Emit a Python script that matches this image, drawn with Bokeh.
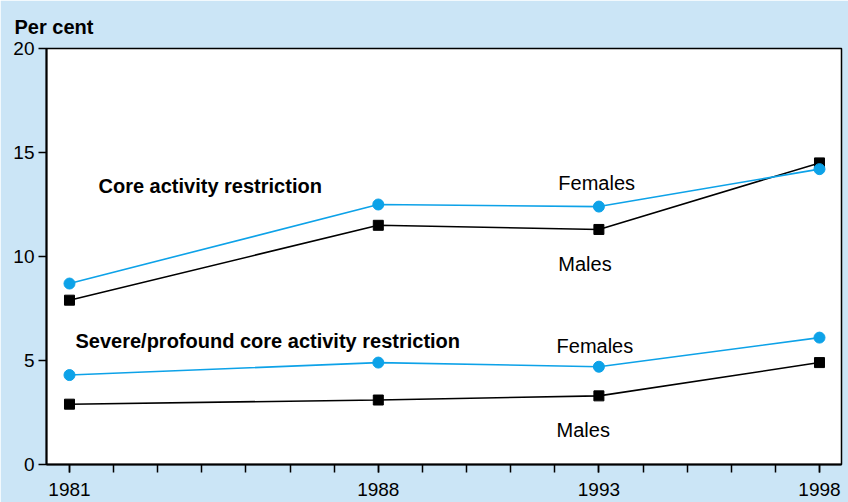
from bokeh.plotting import figure
from bokeh.models import FixedTicker, Label, Range1d
from bokeh.embed import file_html
from bokeh.resources import INLINE

# ---- data ----
years = [1981, 1988, 1993, 1998]
core_females = [8.7, 12.5, 12.4, 14.2]
core_males = [7.9, 11.5, 11.3, 14.5]
severe_females = [4.3, 4.9, 4.7, 6.1]
severe_males = [2.9, 3.1, 3.3, 4.9]
y_ticks = [0, 5, 10, 15, 20]
x_minor = list(range(1981, 1999))

BG = "#CBE5F6"
BLUE = "#0DA2E8"
FONT = "Liberation Sans"

x0, x1 = 1980.479, 1998.499
p = figure(width=848, height=502, output_backend="svg", toolbar_location=None,
           x_range=Range1d(x0, x1), y_range=Range1d(0, 20),
           min_border_left=46, min_border_right=7, min_border_top=48, min_border_bottom=38)
p.background_fill_color = "white"
p.border_fill_color = BG
p.outline_line_color = "black"
p.outline_line_width = 1.5
p.xgrid.visible = False
p.ygrid.visible = False

# title "Per cent"
p.title.text = "Per cent"
p.title.align = "left"
p.title.offset = -32
p.title.standoff = 22
p.title.text_font = FONT
p.title.text_font_size = "20px"
p.title.text_font_style = "bold"
p.title.text_color = "black"

# axes
p.xaxis.ticker = FixedTicker(ticks=years, minor_ticks=x_minor)
p.yaxis.ticker = FixedTicker(ticks=y_ticks, minor_ticks=[])
for ax in (p.xaxis[0], p.yaxis[0]):
    ax.axis_line_color = "black"
    ax.axis_line_width = 2
    ax.major_tick_line_color = "black"
    ax.major_tick_line_width = 1.5
    ax.minor_tick_line_color = "black"
    ax.minor_tick_line_width = 1.5
    ax.major_tick_in = 0
    ax.major_tick_out = 8
    ax.minor_tick_in = 0
    ax.minor_tick_out = 8
    ax.major_label_text_font = FONT
    ax.major_label_text_font_size = "19px"
    ax.major_label_text_color = "black"
p.xaxis.major_label_standoff = 10
p.yaxis.major_label_standoff = 4
p.yaxis.minor_tick_out = 0

# series (males first so females sit on top)
p.line(years, core_males, line_color="black", line_width=1.6)
p.scatter(years, core_males, marker="square", size=10, fill_color="black", line_color="black")
p.line(years, severe_males, line_color="black", line_width=1.6)
p.scatter(years, severe_males, marker="square", size=10, fill_color="black", line_color="black")
p.line(years, core_females, line_color=BLUE, line_width=1.6)
p.scatter(years, core_females, marker="circle", size=11, fill_color=BLUE, line_color=BLUE)
p.line(years, severe_females, line_color=BLUE, line_width=1.6)
p.scatter(years, severe_females, marker="circle", size=11, fill_color=BLUE, line_color=BLUE)

def lab(x, y, text, bold=False):
    p.add_layout(Label(x=x, y=y, text=text,
                       text_font=FONT, text_font_size="20px",
                       text_font_style="bold" if bold else "normal",
                       text_color="black", text_align="left", text_baseline="middle"))

lab(1981.657, 13.37, "Core activity restriction", bold=True)
lab(1981.136, 5.96, "Severe/profound core activity restriction", bold=True)
lab(1992.08, 13.51, "Females")
lab(1992.08, 9.62, "Males")
lab(1992.04, 5.72, "Females")
lab(1992.04, 1.68, "Males")

open("out.html", "w").write(file_html(p, INLINE))
